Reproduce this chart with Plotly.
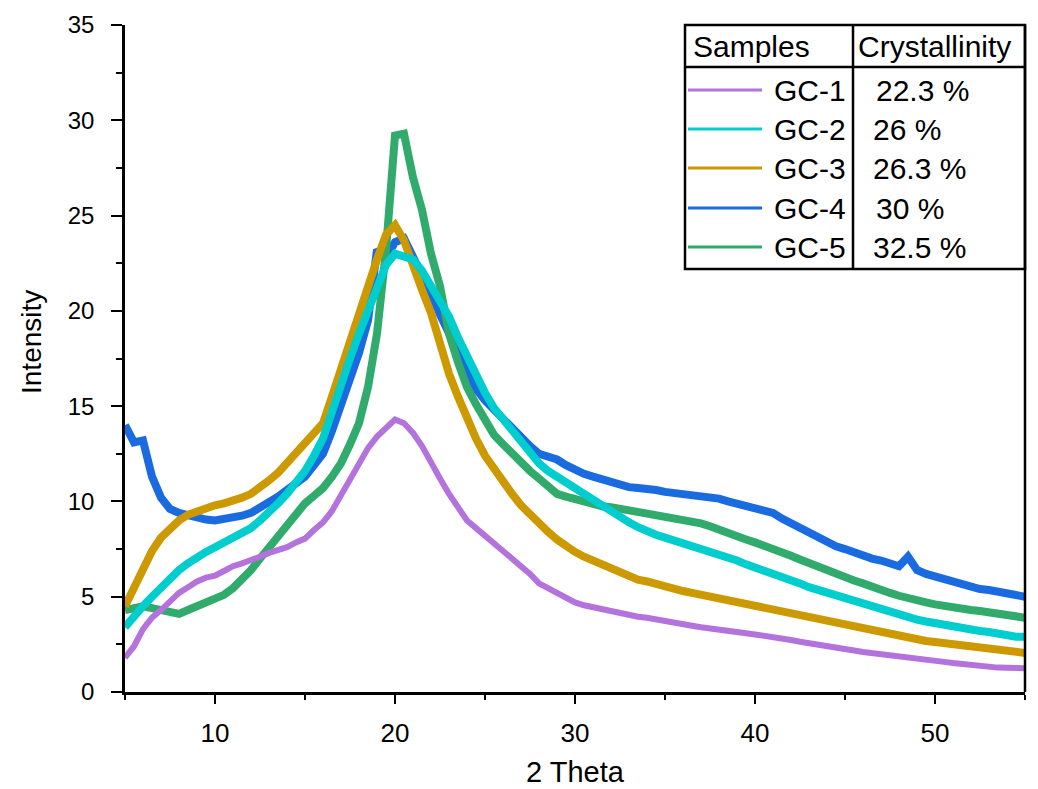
import plotly.graph_objects as go

# ---------------- data ----------------
two_theta = [5 + 0.5 * i for i in range(101)]  # 5 ... 55 deg, 0.5 deg sampling

gc1 = [1.8, 2.4, 3.3, 3.9, 4.3, 4.8, 5.2, 5.5, 5.8, 6.0,
       6.1, 6.35, 6.6, 6.75, 6.9, 7.1, 7.3, 7.45, 7.6, 7.85,
       8.05, 8.5, 8.9, 9.5, 10.3, 11.2, 12.0, 12.8, 13.4, 13.9,
       14.3, 14.1, 13.6, 12.9, 12.0, 11.2, 10.4, 9.7, 9.0, 8.6,
       8.2, 7.8, 7.45, 7.1, 6.7, 6.2, 5.7, 5.45, 5.2, 4.95,
       4.7, 4.55, 4.45, 4.3, 4.2, 4.1, 4.0, 3.95, 3.9, 3.8,
       3.7, 3.62, 3.55, 3.48, 3.4, 3.35, 3.28, 3.2, 3.15, 3.08,
       3.02, 2.96, 2.9, 2.82, 2.73, 2.64, 2.55, 2.47, 2.38, 2.3,
       2.25, 2.18, 2.1, 2.05, 2.0, 1.95, 1.9, 1.85, 1.8, 1.72,
       1.65, 1.58, 1.52, 1.46, 1.4, 1.35, 1.3, 1.28, 1.27, 1.25,
       1.25]

gc2 = [3.4, 4.0, 4.5, 5.0, 5.5, 6.0, 6.4, 6.75, 7.1, 7.35,
       7.6, 7.85, 8.1, 8.35, 8.6, 9.0, 9.4, 9.9, 10.4, 11.0,
       11.6, 12.4, 13.3, 14.7, 16.2, 17.5, 18.8, 20.0, 21.3, 22.4,
       23.0, 22.9, 22.7, 22.1, 21.3, 20.5, 19.7, 18.6, 17.6, 16.7,
       15.7, 14.9, 14.3, 13.7, 13.1, 12.5, 12.0, 11.6, 11.3, 10.9,
       10.6, 10.35, 10.1, 9.75, 9.4, 9.15, 8.9, 8.65, 8.4, 8.25,
       8.1, 7.95, 7.85, 7.7, 7.6, 7.4, 7.25, 7.05, 6.9, 6.7,
       6.55, 6.4, 6.2, 6.05, 5.85, 5.7, 5.5, 5.35, 5.25, 5.1,
       5.0, 4.8, 4.65, 4.45, 4.3, 4.2, 4.05, 3.95, 3.8, 3.7,
       3.6, 3.5, 3.4, 3.35, 3.3, 3.2, 3.15, 3.05, 3.0, 2.9,
       2.9]

gc3 = [4.5, 5.5, 6.6, 7.4, 8.1, 8.6, 9.0, 9.3, 9.5, 9.7,
       9.8, 9.9, 10.0, 10.2, 10.4, 10.7, 11.1, 11.5, 12.0, 12.5,
       13.1, 13.6, 14.1, 15.5, 17.0, 18.4, 19.9, 21.3, 22.7, 24.0,
       24.5, 23.7, 22.3, 21.1, 19.9, 18.3, 16.7, 15.5, 14.3, 13.3,
       12.4, 11.7, 11.0, 10.4, 9.8, 9.3, 8.9, 8.4, 8.0, 7.65,
       7.35, 7.1, 6.9, 6.65, 6.4, 6.2, 6.0, 5.9, 5.8, 5.65,
       5.5, 5.4, 5.3, 5.2, 5.1, 5.0, 4.95, 4.88, 4.8, 4.7,
       4.6, 4.5, 4.4, 4.28, 4.17, 4.06, 3.95, 3.85, 3.75, 3.68,
       3.6, 3.48, 3.35, 3.22, 3.1, 3.0, 2.92, 2.83, 2.75, 2.68,
       2.62, 2.56, 2.5, 2.45, 2.4, 2.35, 2.3, 2.22, 2.15, 2.1,
       2.05]

gc4 = [14.0, 13.1, 13.2, 11.3, 10.2, 9.6, 9.4, 9.25, 9.1, 9.05,
       9.0, 9.05, 9.1, 9.25, 9.4, 9.65, 9.9, 10.25, 10.6, 10.95,
       11.3, 11.9, 12.5, 13.7, 15.0, 16.4, 17.8, 19.5, 23.2, 22.8,
       23.6, 23.8, 22.9, 21.9, 20.9, 19.8, 18.8, 17.7, 16.7, 15.9,
       15.3, 14.8, 14.35, 13.9, 13.4, 12.9, 12.5, 12.35, 12.2, 11.9,
       11.65, 11.45, 11.3, 11.15, 11.0, 10.85, 10.75, 10.7, 10.7, 10.6,
       10.5, 10.45, 10.4, 10.4, 10.35, 10.25, 10.15, 10.0, 9.9, 9.75,
       9.65, 9.5, 9.4, 9.1, 8.85, 8.55, 8.3, 8.05, 7.85, 7.65,
       7.5, 7.3, 7.15, 7.0, 6.9, 6.75, 6.6, 7.1, 6.4, 6.2,
       6.05, 5.9, 5.75, 5.6, 5.5, 5.4, 5.35, 5.25, 5.15, 5.05,
       5.0]

gc5 = [4.3, 4.4, 4.5, 4.4, 4.3, 4.2, 4.1, 4.3, 4.5, 4.65,
       4.8, 5.1, 5.45, 5.9, 6.4, 7.0, 7.6, 8.2, 8.85, 9.4,
       9.9, 10.3, 10.7, 11.3, 12.0, 13.0, 14.1, 16.0, 18.8, 23.2,
       29.2, 29.3, 27.0, 25.3, 23.0, 21.3, 18.8, 17.3, 16.0, 15.1,
       14.2, 13.5, 13.0, 12.5, 12.1, 11.6, 11.2, 10.8, 10.4, 10.25,
       10.1, 9.95, 9.8, 9.75, 9.7, 9.62, 9.55, 9.48, 9.4, 9.35,
       9.25, 9.15, 9.05, 8.95, 8.85, 8.7, 8.5, 8.3, 8.15, 8.0,
       7.85, 7.7, 7.55, 7.35, 7.15, 6.95, 6.75, 6.55, 6.4, 6.2,
       6.05, 5.85, 5.7, 5.5, 5.35, 5.2, 5.05, 4.9, 4.8, 4.7,
       4.6, 4.5, 4.45, 4.35, 4.3, 4.25, 4.2, 4.1, 4.0, 3.95,
       3.9]

samples = ["GC-1", "GC-2", "GC-3", "GC-4", "GC-5"]
crystallinity = ["22.3 %", "26 %", "26.3 %", "30 %", "32.5 %"]
colors = ["#B472DC", "#00CDCD", "#CC9900", "#1A6AE0", "#30AB6B"]
series = {"GC-1": gc1, "GC-2": gc2, "GC-3": gc3, "GC-4": gc4, "GC-5": gc5}
band_width = {"GC-1": 6, "GC-2": 8, "GC-3": 8, "GC-4": 8, "GC-5": 8}

# ---------------- figure ----------------
W, H = 1038, 789
ML, MR, MT, MB = 125, 13, 25, 97
PW, PH = W - ML - MR, H - MT - MB


def px(x):
    return (x - ML) / PW


def py(y):
    return (H - MB - y) / PH


fig = go.Figure()
draw_order = ["GC-4", "GC-5", "GC-3", "GC-2", "GC-1"]
for name in draw_order:
    i = samples.index(name)
    fig.add_trace(go.Scatter(x=two_theta, y=series[name], mode="lines",
                             name=name,
                             line=dict(color=colors[i], width=band_width[name]),
                             showlegend=False))

FONT = "Liberation Sans, Arial, sans-serif"

fig.update_layout(
    width=W, height=H,
    margin=dict(l=ML, r=MR, t=MT, b=MB),
    paper_bgcolor="white", plot_bgcolor="white",
    font=dict(family=FONT, color="black"),
    xaxis=dict(range=[5, 55], tickvals=[10, 20, 30, 40, 50],
               ticks="outside", ticklen=9, tickwidth=2, tickcolor="black",
               showline=True, linewidth=2.5, linecolor="black",
               showgrid=False, zeroline=False,
               tickfont=dict(size=26),
               ticklabelstandoff=7,
               minor=dict(tickvals=[5, 15, 25, 35, 45, 55], ticks="outside",
                          ticklen=5, tickwidth=2, tickcolor="black")),
    yaxis=dict(range=[0, 35], tickvals=[0, 5, 10, 15, 20, 25, 30, 35],
               ticks="outside", ticklen=11, tickwidth=2, tickcolor="black",
               showline=True, linewidth=2.5, linecolor="black",
               showgrid=False, zeroline=False,
               tickfont=dict(size=24), ticklabelstandoff=12,
               minor=dict(tickvals=[2.5, 7.5, 12.5, 17.5, 22.5, 27.5, 32.5],
                          ticks="outside", ticklen=6, tickwidth=2,
                          tickcolor="black")),
)

shapes = []
# right frame line
shapes.append(dict(type="line", xref="paper", yref="paper", x0=1, x1=1,
                   y0=0, y1=1, line=dict(color="black", width=2.5)))
# table
tl, tr, tt, tb = 685, 1025, 25, 269
tcol, thead = 853, 67
shapes.append(dict(type="rect", xref="paper", yref="paper", x0=px(tl), x1=px(tr),
                   y0=py(tb), y1=py(tt), line=dict(color="black", width=2.5)))
shapes.append(dict(type="line", xref="paper", yref="paper", x0=px(tcol), x1=px(tcol),
                   y0=py(tb), y1=py(tt), line=dict(color="black", width=2.5)))
shapes.append(dict(type="line", xref="paper", yref="paper", x0=px(tl), x1=px(tr),
                   y0=py(thead), y1=py(thead), line=dict(color="black", width=2.5)))

TS = 30
annotations = []
annotations.append(dict(xref="paper", yref="paper", x=px(691), y=py(47),
                        text="Samples", showarrow=False, xanchor="left",
                        yanchor="middle", font=dict(size=TS)))
annotations.append(dict(xref="paper", yref="paper", x=px(856), y=py(47),
                        text="Crystallinity", showarrow=False, xanchor="left",
                        yanchor="middle", font=dict(size=TS)))
row_y = [90, 129, 168, 208, 247]
val_x = [874, 871, 871, 874, 871]
for i, name in enumerate(samples):
    shapes.append(dict(type="line", xref="paper", yref="paper",
                       x0=px(688), x1=px(762), y0=py(row_y[i]), y1=py(row_y[i]),
                       line=dict(color=colors[i], width=3)))
    annotations.append(dict(xref="paper", yref="paper", x=px(848), y=py(row_y[i]),
                            text=name, showarrow=False, xanchor="right",
                            yanchor="middle", font=dict(size=TS)))
    annotations.append(dict(xref="paper", yref="paper", x=px(val_x[i]), y=py(row_y[i]),
                            text=crystallinity[i], showarrow=False, xanchor="left",
                            yanchor="middle", font=dict(size=TS)))

# axis titles
annotations.append(dict(xref="paper", yref="paper", x=px(31), y=py(342),
                        text="Intensity", textangle=-90, showarrow=False,
                        xanchor="center", yanchor="middle", font=dict(size=28)))
annotations.append(dict(xref="paper", yref="paper", x=px(575), y=py(772),
                        text="2 Theta", showarrow=False,
                        xanchor="center", yanchor="middle", font=dict(size=29)))

fig.update_layout(shapes=shapes, annotations=annotations)
fig.write_html("out.html", config={"displayModeBar": False},
               post_script="document.body.style.margin='0px';document.body.style.overflow='hidden';")
